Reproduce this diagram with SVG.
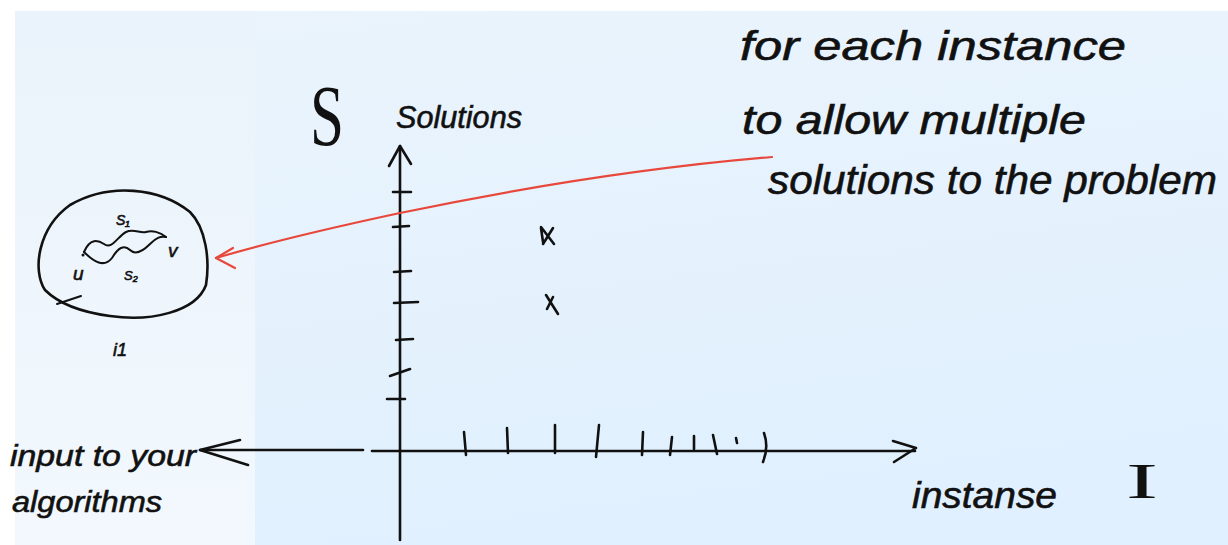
<svg xmlns="http://www.w3.org/2000/svg" width="1228" height="545" viewBox="0 0 1228 545">
<defs>
<linearGradient id="bgR" x1="0" y1="0" x2="0.3" y2="1"><stop offset="0" stop-color="#ebf4fc"/><stop offset="1" stop-color="#e0f0fe"/></linearGradient>
<linearGradient id="bgL" x1="0" y1="0" x2="0" y2="1"><stop offset="0" stop-color="#eaf3fb"/><stop offset="1" stop-color="#f2f8fd"/></linearGradient>
</defs>
<style>
.ink{fill:none;stroke:#111;stroke-width:2.6;stroke-linecap:round;stroke-linejoin:round}
.thin{fill:none;stroke:#111;stroke-width:2;stroke-linecap:round}
.hw{font-family:"Liberation Sans",Arial,sans-serif;font-style:italic;fill:#111;stroke:#111;stroke-width:0.6}
.big{font-family:"Liberation Serif","Times New Roman",serif;font-style:normal;fill:#111}
.red{fill:none;stroke:#e8473b;stroke-width:2.2;stroke-linecap:round;stroke-linejoin:round}
</style>
<rect width="1228" height="545" fill="#ffffff"/>
<rect x="15" y="11" width="1213" height="534" fill="url(#bgR)"/>
<rect x="15" y="11" width="240" height="534" fill="url(#bgL)"/>

<g id="axes">
<path class="ink" d="M400,540 L400,146"/>
<path class="ink" d="M389,166 L400,146 L411,164"/>
<path class="ink" d="M393,192 L411,192 M393,227 L409,226 M394,272 L411,271 M394,303 L418,302 M396,340 L413,339 M390,376 L410,369 M387,399 L405,399"/>
<path class="ink" d="M372,451 L915,451"/>
<path class="ink" d="M893,441 L916,448 L894,462"/>
<path class="ink" d="M464,432 L466,455 M507,428 L508,453 M555,425 L555,453 M599,425 L596,457 M643,432 L642,455 M672,437 L670,455 M694,436 L694,449 M713,435 L717,454 M736,438 L737,443 M764,433 Q769,447 763,462"/>
</g>

<g id="points">
<path class="ink" d="M541,227 L554,244 M553,228 L543,244 M541,228 L543,242"/>
<path class="ink" d="M546,295 L558,314 M553,297 L547,309"/>
</g>

<g id="node-instance">
<path class="ink" d="M70,205 C110,182 160,188 190,212 C206,228 210,260 206,285 C196,312 150,322 110,316 C80,312 58,303 45,290 C32,270 38,228 70,205 Z"/>
<path class="thin" d="M57,304 L81,296"/>
<path class="thin" d="M84,252 C90,238 98,240 104,244 C112,250 118,236 126,232 C134,228 140,234 146,232 C152,230 160,232 166,237"/>
<path class="thin" d="M84,252 C94,262 104,268 112,258 C118,248 124,244 130,250 C136,256 144,250 150,244 C156,238 160,236 166,237"/>
<circle cx="83" cy="255" r="1.5" fill="#111"/>
<text class="hw" x="116" y="225" font-size="14">S₁</text>
<text class="hw" x="124" y="280" font-size="13">S₂</text>
<text class="hw" x="73" y="280" font-size="19">u</text>
<text class="hw" x="168" y="257" font-size="19">v</text>
<text class="hw" x="113" y="356" font-size="18">i1</text>
</g>

<g id="node-S-label">
<text class="big" x="310" y="145" font-size="86" textLength="34" lengthAdjust="spacingAndGlyphs">S</text>
<text class="hw" x="396" y="128" font-size="32" textLength="126" lengthAdjust="spacingAndGlyphs">Solutions</text>
</g>

<g id="node-note">
<text class="hw" x="740" y="60" font-size="40" textLength="386" lengthAdjust="spacingAndGlyphs">for each instance</text>
<text class="hw" x="742" y="134" font-size="40" textLength="344" lengthAdjust="spacingAndGlyphs">to allow multiple</text>
<text class="hw" x="768" y="194" font-size="40" textLength="449" lengthAdjust="spacingAndGlyphs">solutions to the problem</text>
</g>

<g id="node-input">
<text class="hw" x="10" y="466" font-size="30" textLength="186" lengthAdjust="spacingAndGlyphs">input to your</text>
<text class="hw" x="12" y="512" font-size="30" textLength="150" lengthAdjust="spacingAndGlyphs">algorithms</text>
</g>

<g id="node-instanse">
<text class="hw" x="912" y="508" font-size="36" textLength="145" lengthAdjust="spacingAndGlyphs">instanse</text>
<text class="big" x="1126" y="498" font-size="50" textLength="32" lengthAdjust="spacingAndGlyphs">I</text>
</g>

<g id="connectors">
<path class="red" d="M772,157 C640,168 520,188 400,213 C330,228 270,242 216,258"/>
<path class="red" d="M233,248 L216,258 L235,268"/>
<path class="ink" d="M363,450 L200,450"/>
<path class="ink" d="M240,440 L200,450 L248,465"/>
</g>
</svg>
